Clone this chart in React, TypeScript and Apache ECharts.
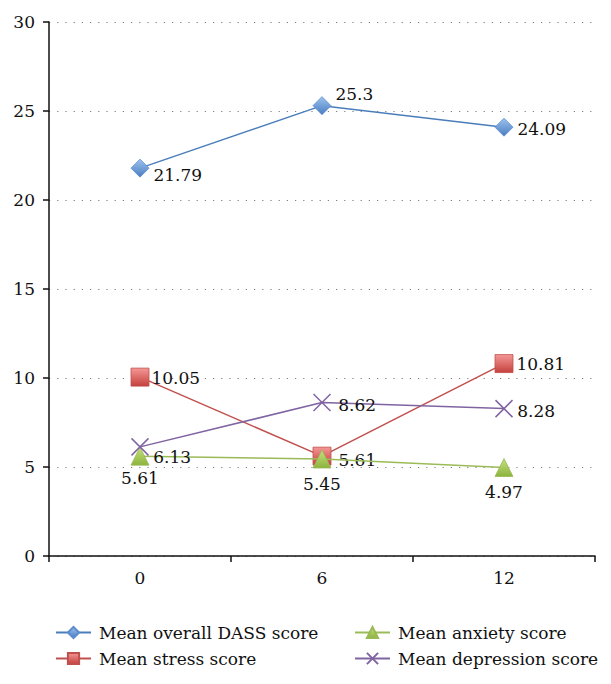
import React, { useEffect, useRef } from "react";
import * as echarts from "echarts";

const categories = ["0", "6", "12"];
const seriesNames = [
  "Mean overall DASS score",
  "Mean stress score",
  "Mean anxiety score",
  "Mean depression score",
];
const dassValues = [21.79, 25.3, 24.09];
const stressValues = [10.05, 5.61, 10.81];
const anxietyValues = [5.61, 5.45, 4.97];
const depressionValues = [6.13, 8.62, 8.28];

// label placement (style only)
const dassLabelPos = [
  { position: "right", offset: [0, 7] },
  { position: "right", offset: [0, -12] },
  { position: "right", offset: [0, 2] },
];
const stressLabelPos = [
  { position: "right", offset: [-2, 1] },
  { position: "right", offset: [3, 4] },
  { position: "right", offset: [-1, 0] },
];
const anxietyLabelPos = [
  { position: "bottom", offset: [0, 0] },
  { position: "bottom", offset: [0, 3] },
  { position: "bottom", offset: [0, 3] },
];
const depressionLabelPos = [
  { position: "right", offset: [0, 10] },
  { position: "right", offset: [3, 2] },
  { position: "right", offset: [0, 2] },
];

const FONT = "DejaVu Serif";
const FS = 17;

function grad(top: string, bottom: string) {
  return new echarts.graphic.LinearGradient(0, 0, 0, 1, [
    { offset: 0, color: top },
    { offset: 1, color: bottom },
  ]);
}

function buildData(values: number[], pos: any[]) {
  return values.map((v, i) => ({
    value: v,
    label: {
      show: true,
      position: pos[i].position,
      offset: pos[i].offset,
      distance: 4,
    },
  }));
}

export default function App() {
  const ref = useRef<HTMLDivElement>(null);
  useEffect(() => {
    if (!ref.current) return;
    const chart = echarts.init(ref.current, undefined, { renderer: "svg" });
    const labelStyle = {
      color: "#111",
      fontSize: FS,
      fontFamily: FONT,
      formatter: (p: any) => String(p.value),
    };
    const legendText = { fontSize: FS, fontFamily: FONT, color: "#111", padding: [0, 0, 0, 3] };
    chart.setOption({
      animation: false,
      backgroundColor: "#fff",
      textStyle: { fontFamily: FONT },
      grid: { left: 49, right: 16, top: 22, bottom: 128, containLabel: false },
      xAxis: {
        type: "category",
        data: categories,
        boundaryGap: true,
        axisLine: { show: true, lineStyle: { color: "#111", width: 1.5 } },
        axisTick: { show: true, length: 6, lineStyle: { color: "#111", width: 1.5 } },
        axisLabel: { color: "#111", fontSize: FS, fontFamily: FONT, margin: 13 },
        splitLine: { show: false },
      },
      yAxis: {
        type: "value",
        min: 0,
        max: 30,
        interval: 5,
        axisLine: { show: true, lineStyle: { color: "#111", width: 1.5 } },
        axisTick: { show: true, length: 6, lineStyle: { color: "#111", width: 1.5 } },
        axisLabel: { color: "#111", fontSize: FS, fontFamily: FONT, margin: 14 },
        splitLine: {
          show: true,
          lineStyle: { color: "#7f7f7f", width: 1.2, type: [1.2, 7] },
        },
      },
      legend: [
        {
          orient: "vertical",
          left: 50,
          top: 619,
          data: [seriesNames[0], seriesNames[1]],
          itemWidth: 35,
          itemHeight: 14,
          itemGap: 9,
          textStyle: legendText,
        },
        {
          orient: "vertical",
          left: 349,
          top: 619,
          data: [seriesNames[2], seriesNames[3]],
          itemWidth: 35,
          itemHeight: 14,
          itemGap: 9,
          textStyle: legendText,
        },
      ],
      series: [
        {
          name: seriesNames[0],
          type: "line",
          data: buildData(dassValues, dassLabelPos),
          symbol: "diamond",
          symbolSize: 18,
          lineStyle: { color: "#4A7EBB", width: 1.5 },
          itemStyle: {
            color: grad("#9CC2F0", "#4A7EC0"),
            borderColor: "#5B8BCB",
            borderWidth: 0.8,
          },
          label: labelStyle,
          z: 5,
        },
        {
          name: seriesNames[1],
          type: "line",
          data: buildData(stressValues, stressLabelPos),
          symbol: "rect",
          symbolSize: 18,
          lineStyle: { color: "#C0504D", width: 1.5 },
          itemStyle: {
            color: grad("#F49896", "#C5403D"),
            borderColor: "#C0504D",
            borderWidth: 0.8,
          },
          label: labelStyle,
          z: 6,
        },
        {
          name: seriesNames[2],
          type: "line",
          data: buildData(anxietyValues, anxietyLabelPos),
          symbol: "triangle",
          symbolSize: 18,
          lineStyle: { color: "#9BBB59", width: 1.5 },
          itemStyle: {
            color: grad("#C5E27E", "#8DB33E"),
            borderColor: "#98B954",
            borderWidth: 0.8,
          },
          label: labelStyle,
          z: 7,
        },
        {
          name: seriesNames[3],
          type: "line",
          data: buildData(depressionValues, depressionLabelPos),
          symbol: "path://M0,0L10,10M10,0L0,10",
          symbolSize: 17,
          lineStyle: { color: "#8064A2", width: 1.5 },
          itemStyle: {
            color: "rgba(0,0,0,0)",
            borderColor: "#8064A2",
            borderWidth: 1.5,
          },
          label: labelStyle,
          z: 8,
        },
      ],
    });
    return () => chart.dispose();
  }, []);
  return (
    <div
      ref={ref}
      style={{ position: "fixed", left: 0, top: 0, width: 611, height: 684, background: "#fff" }}
    />
  );
}
